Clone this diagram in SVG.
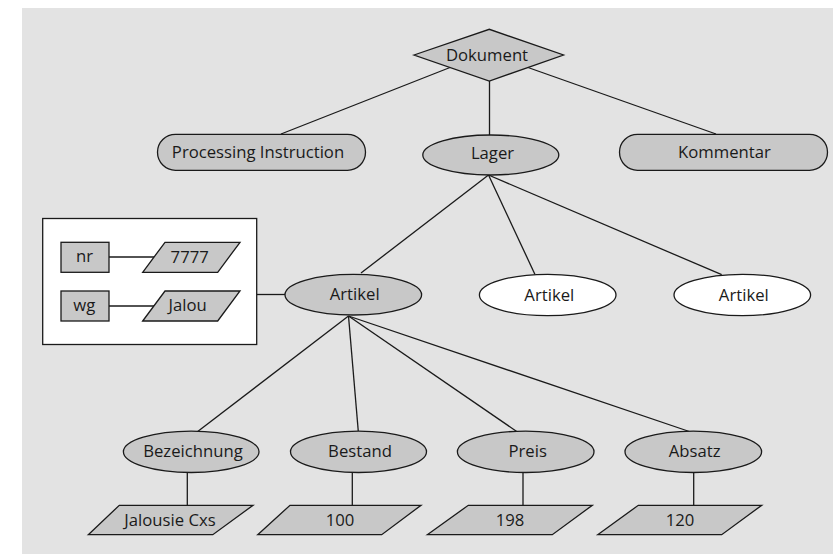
<svg xmlns="http://www.w3.org/2000/svg" width="833" height="554" viewBox="0 0 833 554">
  <style>
    .bg { fill: #e3e3e3; }
    .shape { fill: #c8c8c8; stroke: #1a1a1a; stroke-width: 1.3; }
    .white { fill: #ffffff; stroke: #1a1a1a; stroke-width: 1.3; }
    .edge { stroke: #1a1a1a; stroke-width: 1.3; fill: none; }
    text { font-family: "Open Sans", "Noto Sans", sans-serif; font-size: 16.7px; fill: #1a1a1a; text-anchor: middle; }
  </style>
  <rect width="833" height="554" fill="#ffffff"/>
  <rect class="bg" x="22" y="8" width="811" height="546"/>

  <!-- white frame holding the attributes; drawn first so its lines sit on top -->
  <g id="attribute-box">
    <rect class="white" x="42.7" y="218.5" width="214" height="126"/>
  </g>

  <g id="connectors">
    <line class="edge" x1="450" y1="67.5" x2="281" y2="134"/>
    <line class="edge" x1="528" y1="67.5" x2="716" y2="134"/>
    <line class="edge" x1="489.5" y1="81" x2="489.5" y2="135"/>
    <line class="edge" x1="488.5" y1="175" x2="361" y2="273"/>
    <line class="edge" x1="488.5" y1="175" x2="535" y2="274.5"/>
    <line class="edge" x1="488.5" y1="175" x2="721.7" y2="274.7"/>
    <line class="edge" x1="257" y1="294.5" x2="285" y2="294.5"/>
    <line class="edge" x1="109" y1="257" x2="154" y2="257"/>
    <line class="edge" x1="109" y1="306" x2="154" y2="306"/>
    <line class="edge" x1="348.5" y1="316" x2="197.7" y2="431.5"/>
    <line class="edge" x1="348.5" y1="316" x2="358.3" y2="431.5"/>
    <line class="edge" x1="348.5" y1="316" x2="516.7" y2="431.5"/>
    <line class="edge" x1="348.5" y1="316" x2="689.3" y2="431.5"/>
    <line class="edge" x1="187.3" y1="472" x2="187.3" y2="505"/>
    <line class="edge" x1="352.3" y1="472.5" x2="352.3" y2="505"/>
    <line class="edge" x1="523" y1="472.5" x2="523" y2="505"/>
    <line class="edge" x1="693.7" y1="472.5" x2="693.7" y2="505"/>
  </g>

  <g id="dokument">
    <polygon class="shape" points="414,55 489.3,29.3 563.5,55 489.3,81"/>
    <text x="487" y="61">Dokument</text>
  </g>

  <g id="processing-instruction">
    <rect class="shape" x="157.5" y="134.3" width="208" height="36" rx="18" ry="18"/>
    <text x="258" y="157.5">Processing Instruction</text>
  </g>

  <g id="lager">
    <ellipse class="shape" cx="490.8" cy="155" rx="68" ry="20"/>
    <text x="492.5" y="158.8">Lager</text>
  </g>

  <g id="kommentar">
    <rect class="shape" x="619.5" y="134.3" width="208" height="36" rx="18" ry="18"/>
    <text x="724.5" y="157.5">Kommentar</text>
  </g>

  <g id="attr-nr">
    <rect class="shape" x="61" y="242.3" width="48" height="30"/>
    <text x="84.5" y="262">nr</text>
  </g>

  <g id="value-7777">
    <polygon class="shape" points="142.7,272.3 165,242.3 240,242.3 217.7,272.3"/>
    <text x="189.7" y="262.7">7777</text>
  </g>

  <g id="attr-wg">
    <rect class="shape" x="61" y="291" width="48" height="30"/>
    <text x="84.3" y="310.5">wg</text>
  </g>

  <g id="value-jalou">
    <polygon class="shape" points="142.7,321 165,291 240,291 217.7,321"/>
    <text x="187.7" y="311">Jalou</text>
  </g>

  <g id="artikel-1">
    <ellipse class="shape" cx="353.3" cy="294.7" rx="68.3" ry="20.3"/>
    <text x="354.7" y="300.3">Artikel</text>
  </g>

  <g id="artikel-2">
    <ellipse class="white" cx="547.7" cy="295" rx="68.3" ry="20.7"/>
    <text x="549.3" y="300.5">Artikel</text>
  </g>

  <g id="artikel-3">
    <ellipse class="white" cx="742.3" cy="295" rx="68.3" ry="20.7"/>
    <text x="743.8" y="300.5">Artikel</text>
  </g>

  <g id="bezeichnung">
    <ellipse class="shape" cx="191.2" cy="451.8" rx="67.8" ry="20.7"/>
    <text x="193" y="456.5">Bezeichnung</text>
  </g>

  <g id="bestand">
    <ellipse class="shape" cx="358.5" cy="451.8" rx="68" ry="20.7"/>
    <text x="360" y="456.5">Bestand</text>
  </g>

  <g id="preis">
    <ellipse class="shape" cx="525.7" cy="451.8" rx="68.3" ry="20.7"/>
    <text x="527.7" y="456.5">Preis</text>
  </g>

  <g id="absatz">
    <ellipse class="shape" cx="693.3" cy="451.8" rx="68.3" ry="20.7"/>
    <text x="694.7" y="456.5">Absatz</text>
  </g>

  <g id="value-jalousie-cxs">
    <polygon class="shape" points="88.3,534.7 119.3,505.3 253,505.3 212.8,534.7"/>
    <text x="170" y="526">Jalousie Cxs</text>
  </g>

  <g id="value-100">
    <polygon class="shape" points="257.7,534.7 290,505.3 421,505.3 381.7,534.7"/>
    <text x="340" y="526">100</text>
  </g>

  <g id="value-198">
    <polygon class="shape" points="427.3,534.7 468.3,505.3 592.3,505.3 552.3,534.7"/>
    <text x="510" y="526">198</text>
  </g>

  <g id="value-120">
    <polygon class="shape" points="597.7,534.7 638.3,505.3 761.7,505.3 721.7,534.7"/>
    <text x="680" y="526">120</text>
  </g>
</svg>
